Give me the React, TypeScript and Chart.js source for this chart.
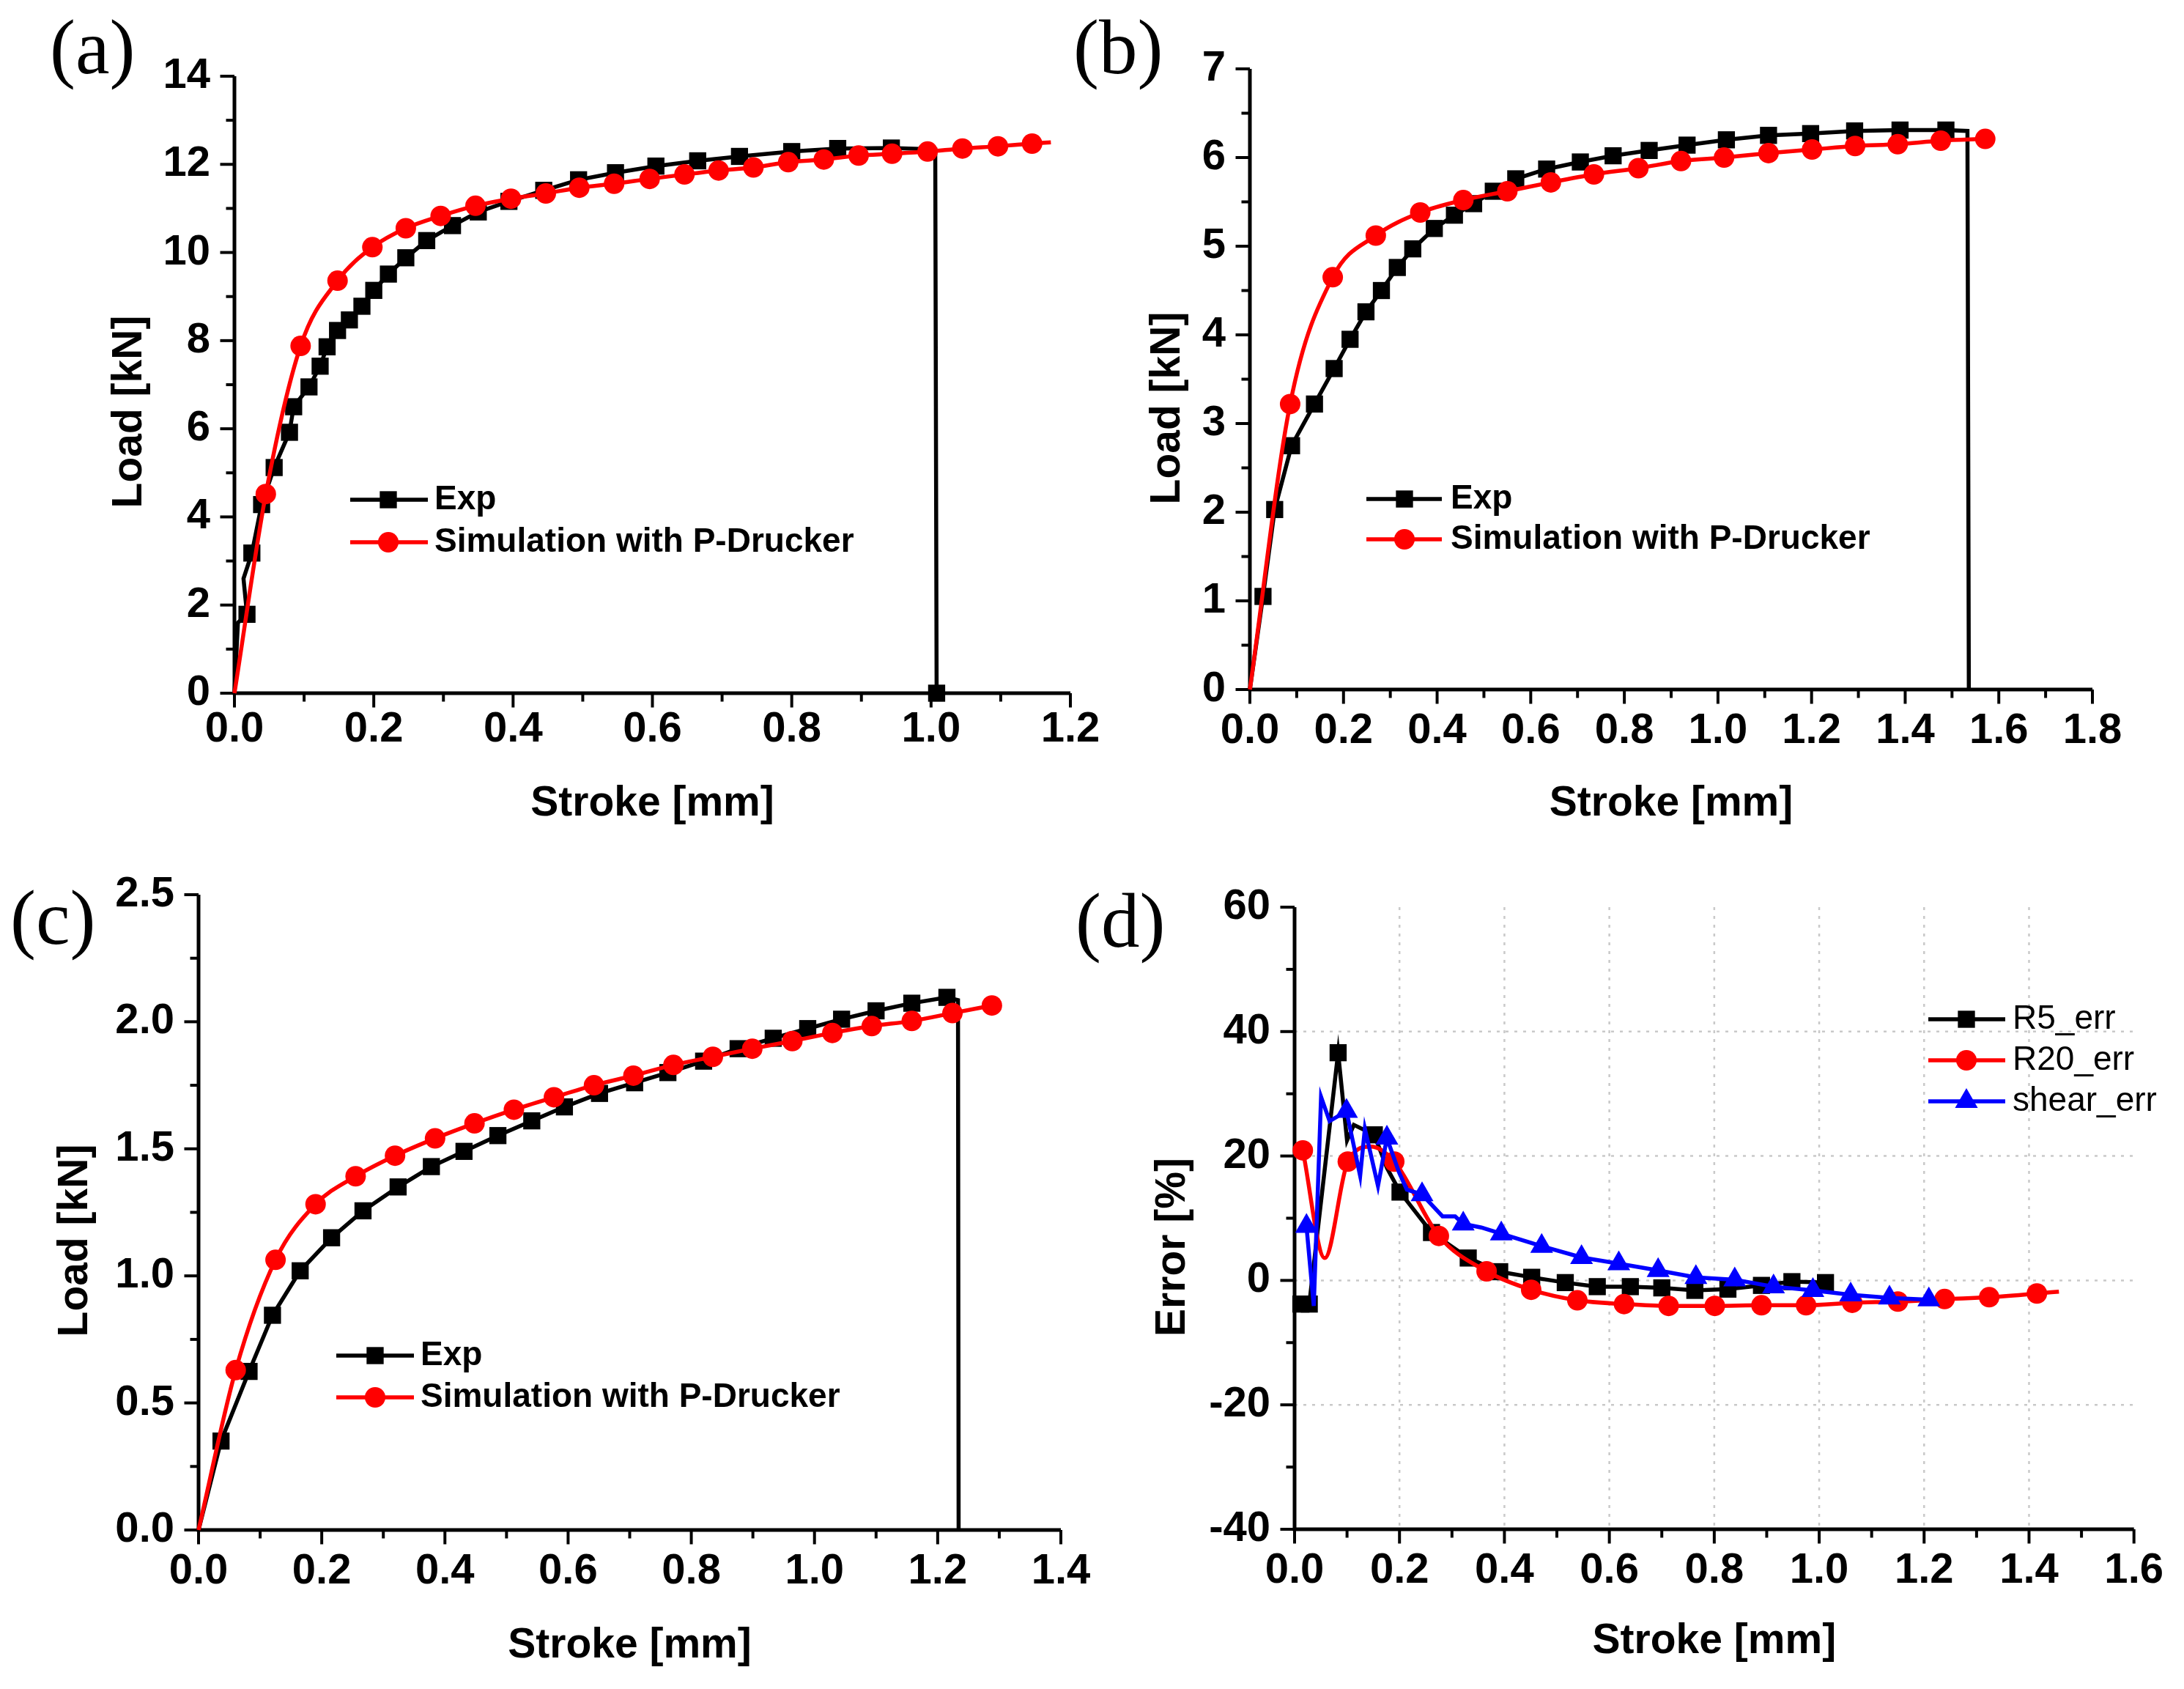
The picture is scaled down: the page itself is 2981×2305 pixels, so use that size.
import React, { useEffect, useRef } from "react";
import { Chart, registerables } from "chart.js";

Chart.register(...registerables);
Chart.defaults.color = "#000";

const PAGE_W = 2981;
const PAGE_H = 2305;
const SANS = '"Liberation Sans", Arial, sans-serif';
const SERIF = '"Liberation Serif", "Times New Roman", serif';
const TICK_SIZE = 58;
const TITLE_SIZE = 57;

// ---------------- Panel (a) data ----------------
const aExpX = [0, 0.005, 0.018, 0.013, 0.025, 0.039, 0.057, 0.079, 0.085, 0.107, 0.123, 0.133, 0.148, 0.165, 0.183, 0.2, 0.221, 0.246, 0.276, 0.313, 0.35, 0.394, 0.444, 0.494, 0.547, 0.605, 0.665, 0.725, 0.8, 0.866, 0.943, 1.006, 1.008];
const aExpY = [0, 1.6, 1.79, 2.6, 3.18, 4.28, 5.12, 5.92, 6.5, 6.95, 7.42, 7.86, 8.23, 8.47, 8.78, 9.14, 9.51, 9.88, 10.27, 10.61, 10.92, 11.16, 11.41, 11.65, 11.81, 11.96, 12.08, 12.18, 12.29, 12.36, 12.37, 12.34, 0];
const aExpNoMark = [0, 1, 3, 31];
const aSimX = [0, 0.045, 0.095, 0.148, 0.198, 0.246, 0.296, 0.346, 0.397, 0.447, 0.495, 0.545, 0.596, 0.646, 0.695, 0.745, 0.795, 0.846, 0.896, 0.944, 0.995, 1.045, 1.096, 1.145, 1.172];
const aSimY = [0, 4.52, 7.88, 9.36, 10.12, 10.55, 10.83, 11.06, 11.22, 11.34, 11.47, 11.56, 11.67, 11.77, 11.86, 11.93, 12.05, 12.11, 12.2, 12.24, 12.29, 12.36, 12.41, 12.47, 12.5];
const aSimNoMark = [0, 24];
const aXTicks = [0, 0.2, 0.4, 0.6, 0.8, 1.0, 1.2];
const aXLabels = ["0.0", "0.2", "0.4", "0.6", "0.8", "1.0", "1.2"];
const aYTicks = [0, 2, 4, 6, 8, 10, 12, 14];
const aYLabels = ["0", "2", "4", "6", "8", "10", "12", "14"];

// ---------------- Panel (b) data ----------------
const bExpX = [0, 0.028, 0.053, 0.089, 0.138, 0.18, 0.214, 0.248, 0.281, 0.315, 0.348, 0.394, 0.437, 0.478, 0.52, 0.568, 0.634, 0.706, 0.776, 0.853, 0.934, 1.018, 1.108, 1.198, 1.292, 1.389, 1.487, 1.533, 1.536];
const bExpY = [0, 1.05, 2.03, 2.75, 3.22, 3.62, 3.95, 4.26, 4.5, 4.76, 4.97, 5.2, 5.35, 5.48, 5.62, 5.76, 5.87, 5.95, 6.02, 6.08, 6.14, 6.2, 6.25, 6.27, 6.3, 6.31, 6.31, 6.3, 0];
const bExpNoMark = [0, 27, 28];
const bSimX = [0, 0.086, 0.177, 0.269, 0.364, 0.456, 0.55, 0.643, 0.735, 0.83, 0.921, 1.013, 1.108, 1.201, 1.293, 1.384, 1.476, 1.571];
const bSimY = [0, 3.22, 4.65, 5.12, 5.38, 5.52, 5.62, 5.72, 5.81, 5.88, 5.96, 6.0, 6.05, 6.09, 6.13, 6.15, 6.19, 6.21];
const bSimNoMark = [0];
const bXTicks = [0, 0.2, 0.4, 0.6, 0.8, 1.0, 1.2, 1.4, 1.6, 1.8];
const bXLabels = ["0.0", "0.2", "0.4", "0.6", "0.8", "1.0", "1.2", "1.4", "1.6", "1.8"];
const bYTicks = [0, 1, 2, 3, 4, 5, 6, 7];
const bYLabels = ["0", "1", "2", "3", "4", "5", "6", "7"];

// ---------------- Panel (c) data ----------------
const cExpX = [0, 0.0365, 0.082, 0.12, 0.165, 0.216, 0.267, 0.324, 0.378, 0.431, 0.486, 0.541, 0.594, 0.651, 0.708, 0.762, 0.82, 0.876, 0.933, 0.989, 1.044, 1.1, 1.158, 1.215, 1.233, 1.234];
const cExpY = [0, 0.35, 0.624, 0.845, 1.02, 1.15, 1.256, 1.35, 1.43, 1.49, 1.552, 1.61, 1.665, 1.718, 1.76, 1.8, 1.845, 1.894, 1.935, 1.973, 2.01, 2.043, 2.073, 2.096, 2.085, 0];
const cExpNoMark = [0, 24, 25];
const cSimX = [0, 0.0603, 0.125, 0.19, 0.255, 0.319, 0.384, 0.448, 0.512, 0.577, 0.642, 0.706, 0.771, 0.835, 0.899, 0.964, 1.029, 1.093, 1.158, 1.224, 1.288];
const cSimY = [0, 0.629, 1.063, 1.282, 1.392, 1.473, 1.541, 1.6, 1.654, 1.703, 1.75, 1.788, 1.83, 1.862, 1.894, 1.924, 1.956, 1.983, 2.003, 2.034, 2.064];
const cSimNoMark = [0];
const cXTicks = [0, 0.2, 0.4, 0.6, 0.8, 1.0, 1.2, 1.4];
const cXLabels = ["0.0", "0.2", "0.4", "0.6", "0.8", "1.0", "1.2", "1.4"];
const cYTicks = [0, 0.5, 1.0, 1.5, 2.0, 2.5];
const cYLabels = ["0.0", "0.5", "1.0", "1.5", "2.0", "2.5"];

// ---------------- Panel (d) data ----------------
const dR5X = [0.012, 0.028, 0.083, 0.1, 0.113, 0.152, 0.176, 0.201, 0.261, 0.331, 0.391, 0.452, 0.516, 0.577, 0.64, 0.7, 0.763, 0.826, 0.89, 0.948, 1.012];
const dR5Y = [-3.8, -3.8, 36.6, 22.5, 25.0, 23.4, 18.1, 14.2, 7.7, 3.6, 1.4, 0.5, -0.35, -1.0, -1.0, -1.2, -1.6, -1.4, -0.8, -0.2, -0.35];
const dR5NoMark = [3, 4, 6];
const dR20X = [0.0157, 0.0575, 0.1015, 0.145, 0.19, 0.275, 0.366, 0.451, 0.539, 0.628, 0.713, 0.801, 0.89, 0.975, 1.063, 1.15, 1.239, 1.324, 1.415, 1.457];
const dR20Y = [20.9, 3.6, 19.1, 21.5, 19.1, 7.15, 1.46, -1.5, -3.2, -3.8, -4.1, -4.1, -4.0, -4.0, -3.6, -3.4, -3.0, -2.7, -2.1, -1.8];
const dR20NoMark = [1, 3, 19];
const dShearX = [0.0227, 0.0366, 0.0505, 0.0667, 0.099, 0.125, 0.134, 0.159, 0.176, 0.199, 0.214, 0.243, 0.282, 0.306, 0.3215, 0.356, 0.394, 0.471, 0.547, 0.618, 0.693, 0.765, 0.839, 0.913, 0.988, 1.06, 1.134, 1.209];
const dShearY = [8.7, -4.1, 29.5, 25.6, 27.2, 16.8, 24.4, 15.2, 22.9, 17.4, 14.6, 13.8, 10.3, 10.3, 9.1, 8.5, 7.5, 5.5, 3.7, 2.7, 1.6, 0.5, 0.1, -1.0, -1.6, -2.3, -2.8, -3.1];
const dShearNoMark = [1, 2, 3, 5, 6, 7, 9, 10, 12, 13, 15];
const dXTicks = [0, 0.2, 0.4, 0.6, 0.8, 1.0, 1.2, 1.4, 1.6];
const dXLabels = ["0.0", "0.2", "0.4", "0.6", "0.8", "1.0", "1.2", "1.4", "1.6"];
const dYTicks = [-40, -20, 0, 20, 40, 60];
const dYLabels = ["-40", "-20", "0", "20", "40", "60"];

const loadLegend = ["Exp", "Simulation with P-Drucker"];
const errLegend = ["R5_err", "R20_err", "shear_err"];

// ---------------- styling / layout ----------------
type Marker = "rect" | "circle" | "triangle";
const MARK_R: Record<Marker, number> = { rect: 16.5, circle: 14, triangle: 18 };
const LINE_W = 5.5;

type SeriesDef = {
  xs: number[];
  ys: number[];
  noMark: number[];
  color: string;
  marker: Marker;
  smooth: boolean;
  order: number;
};
type LegendDef = {
  labels: string[];
  series: SeriesDef[];
  x1: number;
  x2: number;
  xm: number;
  xt: number;
  rows: number[];
  font: string;
};
type PanelDef = {
  area: { l: number; r: number; t: number; b: number };
  xTicks: number[];
  xLabels: string[];
  yTicks: number[];
  yLabels: string[];
  xPad: number;
  xTitleY: number;
  yTitle: string;
  yTitleX: number;
  yTitleY: number;
  tag: string;
  tagX: number;
  tagY: number;
  grid: boolean;
  series: SeriesDef[];
  legend: LegendDef;
};

const BLACK = "#000000";
const RED = "#ff0000";
const BLUE = "#0000ff";

function expSeries(xs: number[], ys: number[], noMark: number[]): SeriesDef {
  return { xs, ys, noMark, color: BLACK, marker: "rect", smooth: false, order: 2 };
}
function simSeries(xs: number[], ys: number[], noMark: number[]): SeriesDef {
  return { xs, ys, noMark, color: RED, marker: "circle", smooth: true, order: 1 };
}

const aSeries = [expSeries(aExpX, aExpY, aExpNoMark), simSeries(aSimX, aSimY, aSimNoMark)];
const bSeries = [expSeries(bExpX, bExpY, bExpNoMark), simSeries(bSimX, bSimY, bSimNoMark)];
const cSeries = [expSeries(cExpX, cExpY, cExpNoMark), simSeries(cSimX, cSimY, cSimNoMark)];
const dSeries: SeriesDef[] = [
  { xs: dR5X, ys: dR5Y, noMark: dR5NoMark, color: BLACK, marker: "rect", smooth: false, order: 3 },
  { xs: dR20X, ys: dR20Y, noMark: dR20NoMark, color: RED, marker: "circle", smooth: true, order: 2 },
  { xs: dShearX, ys: dShearY, noMark: dShearNoMark, color: BLUE, marker: "triangle", smooth: false, order: 1 },
];

const BOLD_LEG = `bold 46px ${SANS}`;

const PANELS: PanelDef[] = [
  {
    area: { l: 320, r: 1461, t: 104, b: 946 },
    xTicks: aXTicks, xLabels: aXLabels, yTicks: aYTicks, yLabels: aYLabels,
    xPad: 21, xTitleY: 1097,
    yTitle: "Load [kN]", yTitleX: 177, yTitleY: 562,
    tag: "(a)", tagX: 68, tagY: 100, grid: false,
    series: aSeries,
    legend: { labels: loadLegend, series: aSeries, x1: 478, x2: 584, xm: 530, xt: 593, rows: [682, 740], font: BOLD_LEG },
  },
  {
    area: { l: 1706, r: 2856, t: 94, b: 941 },
    xTicks: bXTicks, xLabels: bXLabels, yTicks: bYTicks, yLabels: bYLabels,
    xPad: 28, xTitleY: 1097,
    yTitle: "Load [kN]", yTitleX: 1594, yTitleY: 557,
    tag: "(b)", tagX: 1465, tagY: 100, grid: false,
    series: bSeries,
    legend: { labels: loadLegend, series: bSeries, x1: 1865, x2: 1968, xm: 1917, xt: 1980, rows: [681, 736], font: BOLD_LEG },
  },
  {
    area: { l: 271, r: 1448, t: 1221, b: 2088 },
    xTicks: cXTicks, xLabels: cXLabels, yTicks: cYTicks, yLabels: cYLabels,
    xPad: 28, xTitleY: 2246,
    yTitle: "Load [kN]", yTitleX: 103, yTitleY: 1693,
    tag: "(c)", tagX: 14, tagY: 1288, grid: false,
    series: cSeries,
    legend: { labels: loadLegend, series: cSeries, x1: 459, x2: 565, xm: 512, xt: 574, rows: [1850, 1907], font: BOLD_LEG },
  },
  {
    area: { l: 1767, r: 2918, t: 1238, b: 2087 },
    xTicks: dXTicks, xLabels: dXLabels, yTicks: dYTicks, yLabels: dYLabels,
    xPad: 28, xTitleY: 2240,
    yTitle: "Error [%]", yTitleX: 1601, yTitleY: 1702,
    tag: "(d)", tagX: 1468, tagY: 1292, grid: true,
    series: dSeries,
    legend: { labels: errLegend, series: dSeries, x1: 2632, x2: 2737, xm: 2684, xt: 2747, rows: [1391, 1447, 1503], font: `46px ${SANS}` },
  },
];

function drawMarker(ctx: CanvasRenderingContext2D, m: Marker, x: number, y: number, r: number) {
  ctx.beginPath();
  if (m === "rect") {
    const s = Math.SQRT1_2 * r;
    ctx.rect(x - s, y - s, 2 * s, 2 * s);
  } else if (m === "circle") {
    ctx.arc(x, y, r, 0, Math.PI * 2);
  } else {
    const a = (2 * Math.PI) / 3;
    ctx.moveTo(x, y - r);
    ctx.lineTo(x + Math.sin(a) * r, y - Math.cos(a) * r);
    ctx.lineTo(x + Math.sin(2 * a) * r, y - Math.cos(2 * a) * r);
    ctx.closePath();
  }
  ctx.fill();
}

function makePlugin(p: PanelDef) {
  return {
    id: "decor",
    beforeDatasetsDraw(chart: any) {
      const ctx: CanvasRenderingContext2D = chart.ctx;
      const xs = chart.scales.x;
      const ys = chart.scales.y;
      const { left, right, top, bottom } = chart.chartArea;
      ctx.save();
      if (p.grid) {
        ctx.strokeStyle = "#c9c9c9";
        ctx.lineWidth = 2.5;
        ctx.setLineDash([4, 8]);
        p.xTicks.slice(1, -1).forEach((v) => {
          const px = xs.getPixelForValue(v);
          ctx.beginPath();
          ctx.moveTo(px, top);
          ctx.lineTo(px, bottom);
          ctx.stroke();
        });
        p.yTicks.slice(1, -1).forEach((v) => {
          const py = ys.getPixelForValue(v);
          ctx.beginPath();
          ctx.moveTo(left, py);
          ctx.lineTo(right, py);
          ctx.stroke();
        });
        ctx.setLineDash([]);
      }
      ctx.strokeStyle = "#000";
      ctx.lineCap = "butt";
      ctx.lineWidth = 5;
      ctx.beginPath();
      ctx.moveTo(left, top);
      ctx.lineTo(left, bottom + 2.5);
      ctx.moveTo(left - 2.5, bottom);
      ctx.lineTo(right, bottom);
      ctx.stroke();
      ctx.lineWidth = 4;
      const tick = (v: number, major: boolean, horiz: boolean) => {
        const len = major ? 17 : 9;
        ctx.beginPath();
        if (horiz) {
          const px = xs.getPixelForValue(v);
          ctx.moveTo(px, bottom);
          ctx.lineTo(px, bottom + 2.5 + len);
        } else {
          const py = ys.getPixelForValue(v);
          ctx.moveTo(left, py);
          ctx.lineTo(left - 2.5 - len, py);
        }
        ctx.stroke();
      };
      p.xTicks.forEach((v, i) => {
        tick(v, true, true);
        if (i > 0) tick((v + p.xTicks[i - 1]) / 2, false, true);
      });
      p.yTicks.forEach((v, i) => {
        tick(v, true, false);
        if (i > 0) tick((v + p.yTicks[i - 1]) / 2, false, false);
      });
      ctx.restore();
    },
    afterDraw(chart: any) {
      const ctx: CanvasRenderingContext2D = chart.ctx;
      ctx.save();
      ctx.fillStyle = "#000";
      ctx.font = `105px ${SERIF}`;
      ctx.textAlign = "left";
      ctx.textBaseline = "alphabetic";
      ctx.fillText(p.tag, p.tagX, p.tagY);
      ctx.save();
      ctx.translate(p.yTitleX, p.yTitleY);
      ctx.rotate(-Math.PI / 2);
      ctx.font = `bold ${TITLE_SIZE}px ${SANS}`;
      ctx.textAlign = "center";
      ctx.textBaseline = "middle";
      ctx.fillText(p.yTitle, 0, 0);
      ctx.restore();
      const lg = p.legend;
      lg.labels.forEach((label, i) => {
        const s = lg.series[i];
        const y = lg.rows[i];
        ctx.strokeStyle = s.color;
        ctx.fillStyle = s.color;
        ctx.lineWidth = LINE_W;
        ctx.beginPath();
        ctx.moveTo(lg.x1, y);
        ctx.lineTo(lg.x2, y);
        ctx.stroke();
        drawMarker(ctx, s.marker, lg.xm, y, MARK_R[s.marker]);
        ctx.fillStyle = "#000";
        ctx.font = lg.font;
        ctx.textAlign = "left";
        ctx.textBaseline = "middle";
        ctx.fillText(label, lg.xt, y);
      });
      ctx.restore();
    },
  };
}

function makeChart(canvas: HTMLCanvasElement, p: PanelDef) {
  const { l, r, t, b } = p.area;
  const padBottom = PAGE_H - (p.xTitleY + TITLE_SIZE / 2);
  const xScaleH = PAGE_H - padBottom - b;
  const tickFont = { family: SANS, weight: "bold" as const, size: TICK_SIZE, lineHeight: 1 };
  return new Chart(canvas, {
    type: "scatter",
    data: {
      datasets: p.series.map((s) => ({
        data: s.xs.map((x, i) => ({ x, y: s.ys[i] })),
        showLine: true,
        borderColor: s.color,
        backgroundColor: s.color,
        borderWidth: LINE_W,
        pointStyle: s.marker,
        pointRadius: (c: any) => (s.noMark.includes(c.dataIndex) ? 0 : MARK_R[s.marker]),
        pointBorderWidth: 0,
        pointBackgroundColor: s.color,
        pointBorderColor: s.color,
        tension: s.smooth ? 0.4 : 0,
        cubicInterpolationMode: s.smooth ? "monotone" : "default",
        clip: false,
        order: s.order,
      })) as any,
    },
    options: {
      responsive: false,
      animation: false,
      devicePixelRatio: 1,
      events: [],
      layout: { padding: { left: 0, top: t, right: PAGE_W - r, bottom: padBottom } },
      plugins: { legend: { display: false }, tooltip: { enabled: false } },
      scales: {
        x: {
          type: "linear",
          position: "bottom",
          min: p.xTicks[0],
          max: p.xTicks[p.xTicks.length - 1],
          afterFit: (s: any) => {
            s.height = xScaleH;
          },
          afterBuildTicks: (s: any) => {
            s.ticks = p.xTicks.map((v) => ({ value: v }));
          },
          grid: { display: false, drawTicks: false },
          border: { display: false },
          ticks: {
            autoSkip: false,
            maxRotation: 0,
            minRotation: 0,
            padding: p.xPad,
            color: "#000",
            font: tickFont,
            callback: (_v: any, i: number) => p.xLabels[i],
          },
          title: {
            display: true,
            text: "Stroke [mm]",
            color: "#000",
            padding: 0,
            font: { family: SANS, weight: "bold", size: TITLE_SIZE, lineHeight: 1 },
          },
        },
        y: {
          type: "linear",
          position: "left",
          min: p.yTicks[0],
          max: p.yTicks[p.yTicks.length - 1],
          afterFit: (s: any) => {
            s.width = l;
          },
          afterBuildTicks: (s: any) => {
            s.ticks = p.yTicks.map((v) => ({ value: v }));
          },
          grid: { display: false, drawTicks: false },
          border: { display: false },
          ticks: {
            autoSkip: false,
            padding: 33,
            color: "#000",
            font: tickFont,
            callback: (_v: any, i: number) => p.yLabels[i],
          },
          title: { display: false },
        },
      },
    } as any,
    plugins: [makePlugin(p)],
  });
}

function PanelCanvas({ p }: { p: PanelDef }) {
  const ref = useRef<HTMLCanvasElement>(null);
  useEffect(() => {
    if (!ref.current) return;
    const chart = makeChart(ref.current, p);
    return () => chart.destroy();
  }, [p]);
  return (
    <canvas
      ref={ref}
      width={PAGE_W}
      height={PAGE_H}
      style={{ position: "absolute", left: 0, top: 0, width: PAGE_W, height: PAGE_H }}
    />
  );
}

export default function App() {
  return (
    <div
      style={{
        position: "absolute",
        left: 0,
        top: 0,
        width: PAGE_W,
        height: PAGE_H,
        background: "#ffffff",
        overflow: "hidden",
      }}
    >
      {PANELS.map((p, i) => (
        <PanelCanvas key={i} p={p} />
      ))}
    </div>
  );
}
